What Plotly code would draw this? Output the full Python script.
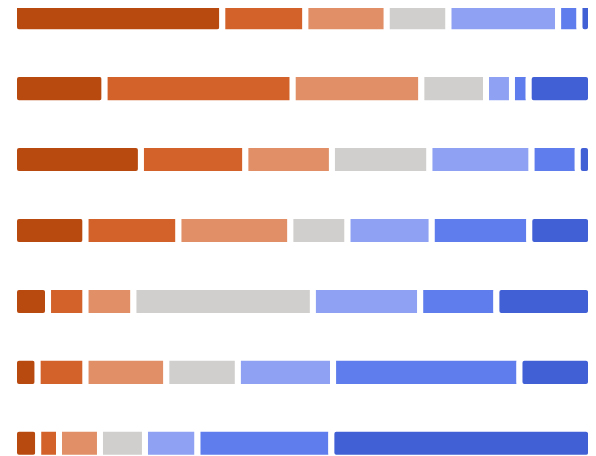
import plotly.graph_objects as go

rows = ["Item 1", "Item 2", "Item 3", "Item 4", "Item 5", "Item 6", "Item 7"]
seg_names = ["Strongly disagree", "Disagree", "Somewhat disagree", "Neutral",
             "Somewhat agree", "Agree", "Strongly agree"]
colors = ["#B8490F", "#D2622A", "#E18F66", "#D0CFCD", "#8EA1F2", "#5F7DEC", "#4260D5"]

s1 = [36.1, 15.7, 22.0, 12.4, 5.9, 4.1, 4.2]
s2 = [14.4, 32.6, 18.1, 16.1, 6.5, 8.3, 3.6]
s3 = [14.1, 22.3, 15.0, 19.4, 8.3, 14.0, 7.1]
s4 = [10.7, 11.2, 16.9, 9.9, 31.1, 12.4, 7.8]
s5 = [19.0, 4.5, 17.7, 14.6, 18.6, 16.5, 9.1]
s6 = [3.7, 2.9, 8.0, 16.9, 13.2, 32.3, 23.2]
s7 = [2.0, 10.8, 2.3, 10.7, 16.4, 12.4, 45.0]
series = [s1, s2, s3, s4, s5, s6, s7]

fig = go.Figure()
cum = [0.0] * len(rows)
n = len(series)
for i, vals in enumerate(series):
    radius = 5 if i in (0, n - 1) else 0
    fig.add_trace(go.Bar(
        y=rows, x=list(vals), base=list(cum), orientation="h", name=seg_names[i],
        width=0.41,
        marker=dict(color=colors[i], line=dict(color="white", width=6),
                    cornerradius=radius),
        showlegend=False,
    ))
    cum = [c + v for c, v in zip(cum, vals)]

fig.update_layout(
    barmode="overlay",
    width=596, height=456,
    margin=dict(l=0, r=0, t=0, b=0),
    paper_bgcolor="white", plot_bgcolor="white",
    xaxis=dict(range=[-1.04, 102.25], visible=False, showgrid=False, zeroline=False),
    yaxis=dict(type="category", categoryorder="array", categoryarray=rows,
               range=[6.292, -0.1368], visible=False, showgrid=False, zeroline=False),
)

fig.write_html("out.html")
